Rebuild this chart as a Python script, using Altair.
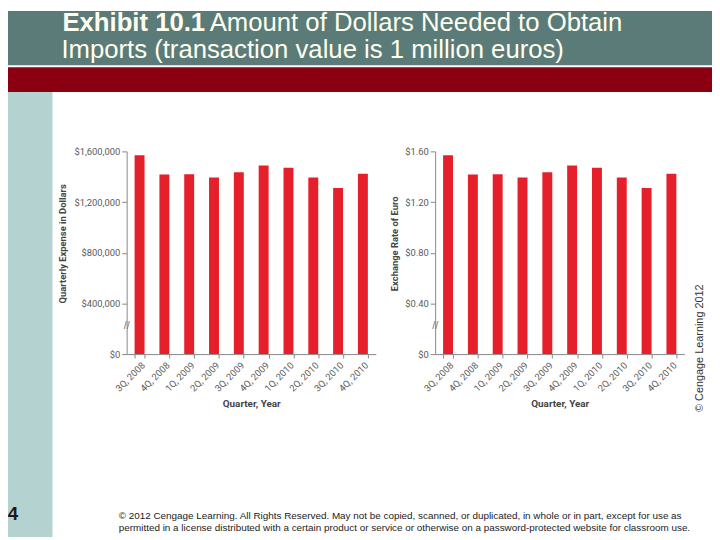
import altair as alt
import pandas as pd

quarters = ["3Q, 2008", "4Q, 2008", "1Q, 2009", "2Q, 2009", "3Q, 2009",
            "4Q, 2009", "1Q, 2010", "2Q, 2010", "3Q, 2010", "4Q, 2010"]
expense = [1570000, 1418000, 1420000, 1394000, 1436000,
           1488000, 1470000, 1394000, 1311000, 1423000]
rate = [1.57, 1.418, 1.42, 1.394, 1.436, 1.488, 1.47, 1.394, 1.311, 1.423]
expense_ticks = [0, 400000, 800000, 1200000, 1600000]
rate_ticks = [0, 0.4, 0.8, 1.2, 1.6]

title_bold = "Exhibit 10.1"
title_rest = "Amount of Dollars Needed to Obtain"
title_line2 = "Imports (transaction value is 1 million euros)"
footer1 = ("\u00a9 2012 Cengage Learning. All Rights Reserved. May not be copied, scanned, or duplicated, "
           "in whole or in part, except for use as")
footer2 = ("permitted in a license distributed with a certain product or service or otherwise on a "
           "password-protected website for classroom use.")
side_note = "\u00a9 Cengage Learning 2012"
slide_no = "4"

df = pd.DataFrame({"quarter": quarters, "expense": expense, "rate": rate})
one = pd.DataFrame({"k": [0]})

W, H = 712, 532
RED = "#e6202a"
NARROW = "Liberation Sans Narrow, Arial Narrow, Roboto, sans-serif"
SANS = "Liberation Sans, Arial, sans-serif"
AX = "#888888"
LAB = "#5a5a5a"


def rect(x, x2, y, y2, color):
    return alt.Chart(one).mark_rect(color=color, strokeWidth=0).encode(
        x=alt.value(x), x2=alt.value(x2), y=alt.value(y), y2=alt.value(y2))


def text(t, x, y, **kw):
    return alt.Chart(one).mark_text(text=t, **kw).encode(x=alt.value(x), y=alt.value(y))


deco = [
    rect(0, W, 0, 55, "#5b7b79"),
    rect(0, W, 57, 82, "#8b0011"),
    rect(0, 45, 82, H, "#b4d3d0"),
    text(title_bold, 55, 20.5, align="left", baseline="alphabetic", font=SANS,
         fontSize=26, fontWeight="bold", color="#fffff0"),
    text(title_rest, 204, 20.5, align="left", baseline="alphabetic", font=SANS,
         fontSize=26, color="#fffff0"),
    text(title_line2, 54, 48, align="left", baseline="alphabetic", font=SANS,
         fontSize=26, color="#fffff0"),
    text(slide_no, 5, 509, align="center", baseline="middle", font=SANS,
         fontSize=19, fontWeight="bold", color="#1a1a1a"),
    text(footer1, 112, 514, align="left", baseline="alphabetic", font=SANS,
         fontSize=10, color="#222222"),
    text(footer2, 112, 526, align="left", baseline="alphabetic", font=SANS,
         fontSize=10, color="#222222"),
    text(side_note, 700, 341, align="center", baseline="middle", font=SANS,
         fontSize=11, angle=270, color="#333333"),
    text("//", 120, 319, align="center", baseline="middle", font=SANS,
         fontSize=11, color="#777777"),
    text("//", 432, 319, align="center", baseline="middle", font=SANS,
         fontSize=11, color="#777777"),
]

BOTTOM = 347
TOP = 142
TITLE_Y = 235


def xaxis():
    return alt.Axis(orient="bottom", offset=BOTTOM - H, tickBand="extent", tickSize=4,
                    tickColor=AX, domainColor=AX, labelAngle=-45, labelFont=NARROW,
                    labelFontSize=9.5, labelColor=LAB, labelPadding=2,
                    title="Quarter, Year", titleFont=NARROW, titleFontSize=10,
                    titleFontWeight="bold", titleColor="#444444", titlePadding=6, grid=False)


p1 = alt.Chart(df).mark_bar(color=RED).encode(
    x=alt.X("quarter:N", sort=quarters,
            scale=alt.Scale(range=[120, 372], paddingInner=0.6, paddingOuter=0.32),
            axis=xaxis()),
    y=alt.Y("expense:Q",
            scale=alt.Scale(domain=[0, 1600000], range=[BOTTOM, TOP], nice=False, zero=True),
            axis=alt.Axis(orient="left", offset=-120, values=expense_ticks,
                          labelExpr="'$' + format(datum.value, ',')",
                          tickSize=5, tickColor=AX, domainColor=AX, grid=False,
                          labelFont=NARROW, labelFontSize=9.5, labelColor=LAB,
                          title="Quarterly Expense in Dollars", titleFont=NARROW,
                          titleFontSize=9.5, titleFontWeight="bold", titleColor="#444444",
                          titlePadding=6, titleY=TITLE_Y)),
)

p2 = alt.Chart(df).mark_bar(color=RED).encode(
    x=alt.X("quarter:N", sort=quarters,
            scale=alt.Scale(range=[432, 684], paddingInner=0.6, paddingOuter=0.32),
            axis=xaxis()),
    y=alt.Y("rate:Q",
            scale=alt.Scale(domain=[0, 1.6], range=[BOTTOM, TOP], nice=False, zero=True),
            axis=alt.Axis(orient="left", offset=-432, values=rate_ticks,
                          labelExpr="datum.value == 0 ? '$0' : '$' + format(datum.value, '.2f')",
                          tickSize=5, tickColor=AX, domainColor=AX, grid=False,
                          labelFont=NARROW, labelFontSize=9.5, labelColor=LAB,
                          title="Exchange Rate of Euro", titleFont=NARROW,
                          titleFontSize=9.5, titleFontWeight="bold", titleColor="#444444",
                          titlePadding=5, titleY=TITLE_Y)),
)

chart = alt.layer(*deco, p1, p2).resolve_scale(
    x="independent", y="independent"
).properties(
    width=W, height=H, padding=0,
    autosize=alt.AutoSizeParams(type="none"),
).configure_view(stroke=None)

chart.save("out.html", embed_options={"renderer": "svg", "actions": False})
